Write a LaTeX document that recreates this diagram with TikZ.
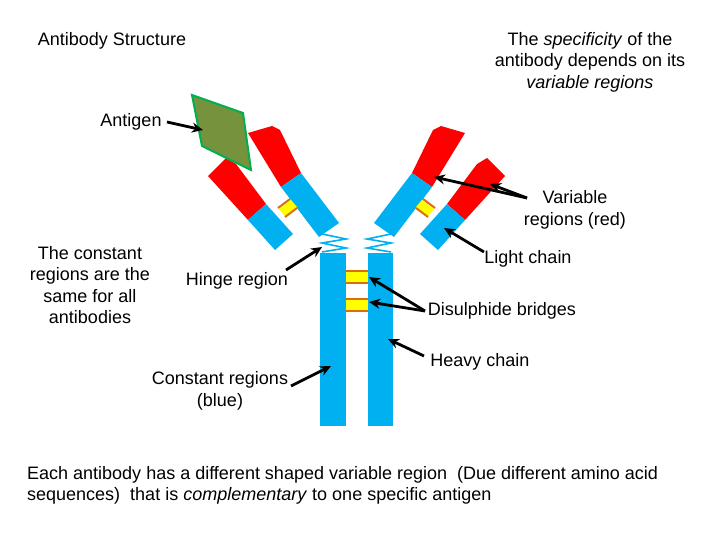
\documentclass[tikz,border=0pt]{standalone}
\usepackage{fontspec}
\setmainfont{Liberation Sans}
\usetikzlibrary{arrows.meta}
\definecolor{abblue}{RGB}{0,176,240}
\definecolor{abred}{RGB}{255,0,0}
\definecolor{abyel}{RGB}{255,255,0}
\definecolor{aborg}{RGB}{220,110,10}
\definecolor{agfill}{RGB}{118,146,60}
\definecolor{aggreen}{RGB}{0,176,80}
\begin{document}
\begin{tikzpicture}[x=1pt,y=-1pt,
  lbl/.style={font=\fontsize{18}{21.5}\selectfont,align=center,inner sep=0pt},
  arr/.style={-{Stealth[length=11pt,width=10pt]},line width=2.8pt,black},
  bl/.style={fill=abblue,draw=none},
  rd/.style={fill=abred,draw=none}]
\useasboundingbox (0,0) rectangle (720,540);
\fill[white] (0,0) rectangle (720,540);
% stems
\fill[abblue] (320,253) rectangle (346,426);
\fill[abblue] (368,253) rectangle (393,426);
% stem bridges
\foreach \yy in {270,298}{
 \fill[abyel] (346,\yy) rectangle (368,\yy+14);
 \draw[aborg,line width=2pt] (346,\yy+1) -- (368,\yy+1) (346,\yy+13) -- (368,\yy+13);}
% arms (left, mirrored for right)
\foreach \s in {1,-1}{
\begin{scope}[shift={(356.5,0)},xscale=\s,shift={(-356.5,0)}]
 \fill[abred] (208,176) -- (226,158) -- (236,164) -- (266,204) -- (248,220) -- cycle;
 \fill[abblue] (248,220) -- (266,204) -- (293,234) -- (275,250) -- cycle;
 \fill[abred] (248,133) -- (272,126) -- (280,130) -- (301,173) -- (281,187) -- cycle;
 \fill[abblue] (281,187) -- (301,173) -- (339,223) -- (319,237) -- cycle;
 % arm bridge
 \fill[abyel] (279,209) -- (291,200) -- (297,207) -- (285,216) -- cycle;
 \draw[aborg,line width=2pt] (278,208) -- (290,199) (285,217) -- (297,208);
 % hinge zigzag
 \draw[abblue,line width=1.6pt] (322,234) -- (346,239) -- (322,243) -- (346,248) -- (322,252);
\end{scope}}
% antigen
\draw[aggreen,fill=agfill,line width=2pt] (192,95) -- (243,113) -- (251,170) -- (202,146) -- cycle;
% labels
\node[lbl] (title) at (112,41) {Antibody Structure};
\node[lbl] (spec) at (590,62) {The \textit{specificity} of the\\antibody depends on its\\\textit{variable regions}};
\node[lbl] (antigen) at (131,122) {Antigen};
\node[lbl] (var) at (575,210) {Variable\\regions (red)};
\node[lbl] (light) at (528,259) {Light chain};
\node[lbl] (const) at (90,285) {The constant\\regions are the\\same for all\\antibodies};
\node[lbl] (hinge) at (237,281) {Hinge region};
\node[lbl] (disul) at (502,311) {Disulphide bridges};
\node[lbl] (heavy) at (480,362) {Heavy chain};
\node[lbl] (constb) at (220,391) {Constant regions\\(blue)};
\node[lbl,align=left,anchor=north west] (bottom) at (27,466) {Each antibody has a different shaped variable region\ \ (Due different amino acid\\sequences)\ \ that is \textit{complementary} to one specific antigen};
% target coordinates
\coordinate (tAg) at (203,130);
\coordinate (tV1) at (434,177);
\coordinate (tV2) at (490,184);
\coordinate (tL) at (444,228);
\coordinate (tH) at (322,247);
\coordinate (tD1) at (369,277);
\coordinate (tD2) at (369,302);
\coordinate (tHv) at (388,339);
\coordinate (tC) at (331,366);
\coordinate (sV) at (527,198);
\coordinate (sD) at (425,311);
\draw[arr] (167,122) -- (tAg);
\draw[arr] (sV) -- (tV1);
\draw[arr] (sV) -- (tV2);
\draw[arr] (484,252) -- (tL);
\draw[arr] (286,270) -- (tH);
\draw[arr] (sD) -- (tD1);
\draw[arr] (sD) -- (tD2);
\draw[arr] (424,356) -- (tHv);
\draw[arr] (291,386) -- (tC);
\end{tikzpicture}
\end{document}
